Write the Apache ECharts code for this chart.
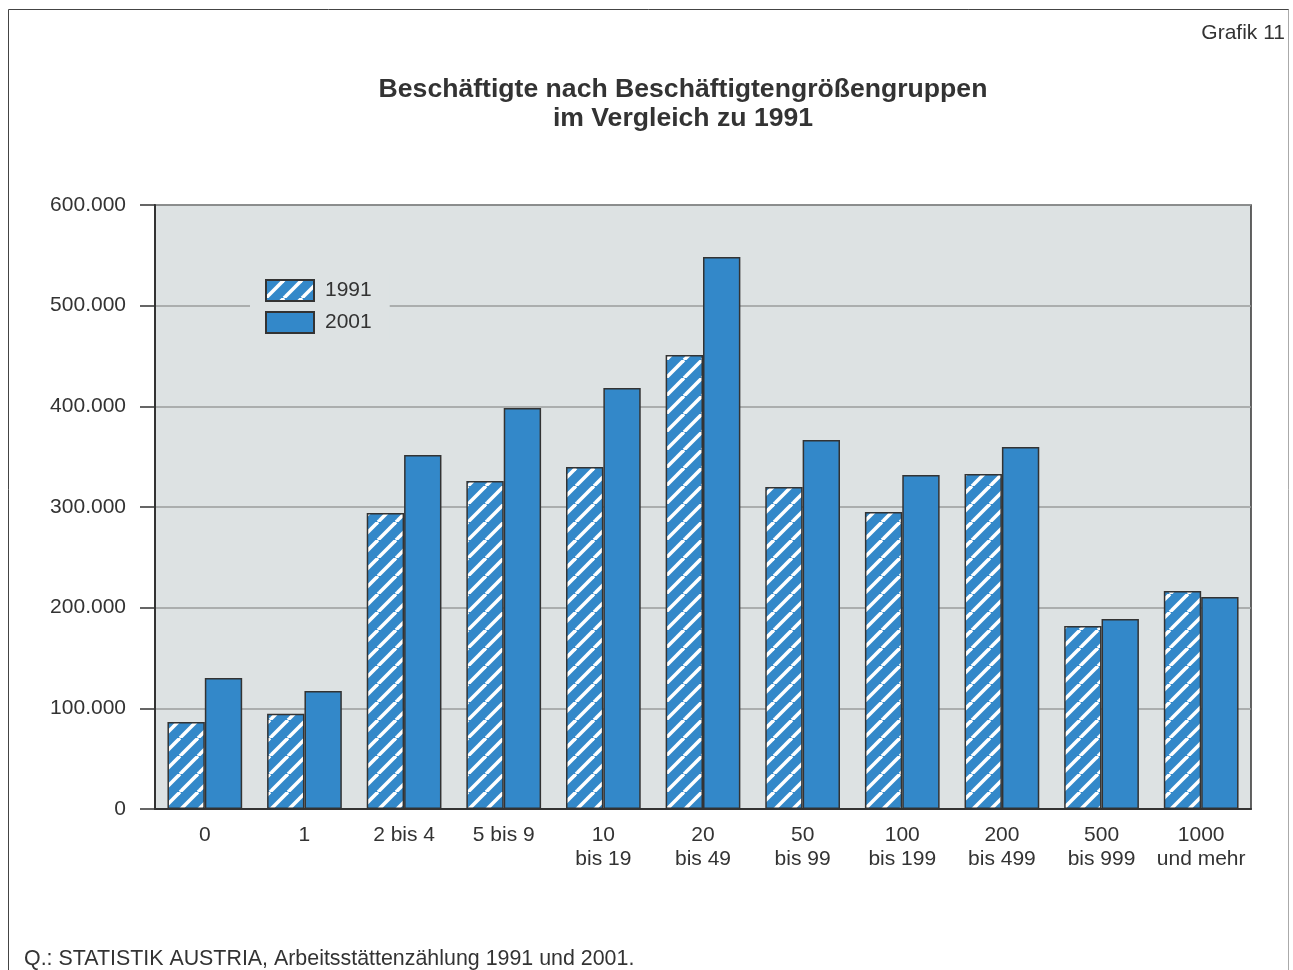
<!DOCTYPE html>
<html><head><meta charset="utf-8">
<script src="https://cdn.jsdelivr.net/npm/echarts@6/dist/echarts.min.js"></script>
<style>html,body{margin:0;padding:0;background:#fff}#c{width:1293px;height:970px}</style>
</head><body><div id="c"></div>
<script>
const categories = ['0','1','2 bis 4','5 bis 9','10\nbis 19','20\nbis 49','50\nbis 99','100\nbis 199','200\nbis 499','500\nbis 999','1000\nund mehr'];
const values1991 = [86500, 94500, 294000, 325800, 339700, 451000, 319900, 295000, 332800, 181800, 216600];
const values2001 = [130100, 117200, 351700, 398300, 418200, 548300, 366600, 331800, 359600, 188700, 210600];
const yTicks = [0, 100000, 200000, 300000, 400000, 500000, 600000];

const BLUE = '#3388c9';
function hatch(){
  const s = 18, c = document.createElement('canvas');
  c.width = s; c.height = s;
  const g = c.getContext('2d');
  g.fillStyle = BLUE; g.fillRect(0,0,s,s);
  g.strokeStyle = '#ffffff'; g.lineWidth = 3.6;
  for (const k of [-s,0,s]) { g.beginPath(); g.moveTo(k, s); g.lineTo(k+s, 0); g.stroke(); }
  return c;
}
const pat = {image: hatch(), repeat: 'repeat'};
const fmt = v => String(v).replace(/\B(?=(\d{3})+(?!\d))/g, '.');
const FONT = '"Liberation Sans", Arial, sans-serif';
const chart = echarts.init(document.getElementById('c'), null, {renderer:'canvas'});
chart.setOption({
  animation: false,
  backgroundColor: '#ffffff',
  textStyle: {fontFamily: FONT},
  title: {
    text: 'Beschäftigte nach Beschäftigtengrößengruppen\nim Vergleich zu 1991',
    left: 678, top: 70, textAlign: 'center',
    textStyle: {fontSize: 26.6, fontWeight: 'bold', color: '#333', lineHeight: 29, fontFamily: FONT}
  },
  graphic: [
    {type:'line', shape:{x1:8.5,y1:9.5,x2:1289,y2:9.5}, style:{stroke:'#444', lineWidth:1}},
    {type:'line', shape:{x1:8.5,y1:9.5,x2:8.5,y2:970}, style:{stroke:'#444', lineWidth:1}},
    {type:'line', shape:{x1:1288.5,y1:9.5,x2:1288.5,y2:970}, style:{stroke:'#aaa', lineWidth:1}},
    {type:'text', right: 8, top: 23, style:{text:'Grafik 11', fontSize:21, fill:'#333', fontFamily: FONT}},
    {type:'text', left: 24, top: 949, style:{text:'Q.: STATISTIK AUSTRIA, Arbeitsstättenzählung 1991 und 2001.', fontSize:21.4, fill:'#333', fontFamily: FONT}}
  ],
  legend: {
    orient: 'vertical', left: 250, top: 274,
    itemWidth: 48, itemHeight: 21, itemGap: 9, icon: 'rect',
    padding: [5, 18, 5, 15],
    backgroundColor: '#dde2e3',
    textStyle: {fontSize: 21, color: '#333', fontFamily: FONT, padding: [0, 0, 0, 6]},
    data: ['1991', '2001']
  },
  grid: {left: 155, right: 42, top: 205, bottom: 161, show: true, backgroundColor: '#dde2e3', borderColor: '#333', borderWidth: 1.5},
  xAxis: {
    type: 'category', data: categories,
    axisLine: {show: true, lineStyle: {color: '#333', width: 2}},
    axisTick: {show: false},
    axisLabel: {fontSize: 21, color: '#333', margin: 14, lineHeight: 24, fontFamily: FONT, interval: 0}
  },
  yAxis: {
    type: 'value', min: 0, max: 600000, interval: 100000,
    axisLine: {show: true, lineStyle: {color: '#333', width: 2}},
    axisTick: {show: true, length: 15, lineStyle: {color: '#333', width: 1.5}},
    axisLabel: {fontSize: 21, color: '#333', margin: 29, fontFamily: FONT, formatter: v => yTicks.includes(v) ? fmt(v) : ''},
    splitLine: {show: true, lineStyle: {color: '#9a9c9c', width: 1.5}}
  },
  series: [
    {name: '1991', type: 'bar', data: values1991, barGap: '0%', barCategoryGap: '25%',
     itemStyle: {color: pat, borderColor: '#333', borderWidth: 1.5}},
    {name: '2001', type: 'bar', data: values2001,
     itemStyle: {color: BLUE, borderColor: '#333', borderWidth: 1.5}}
  ]
});
</script></body></html>
